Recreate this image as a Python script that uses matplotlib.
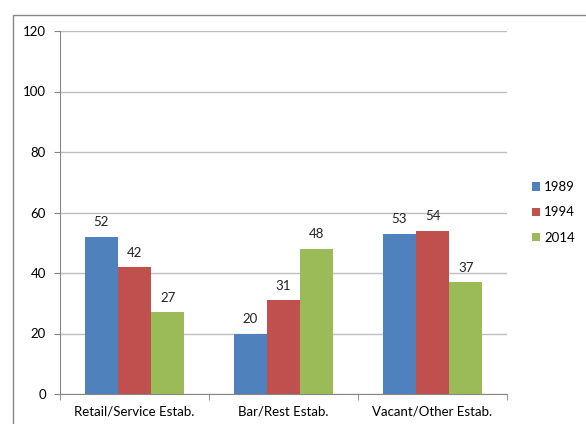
import matplotlib.pyplot as plt
import numpy as np
from matplotlib.patches import Rectangle

categories = ['Retail/Service Estab.', 'Bar/Rest Estab.', 'Vacant/Other Estab.']
years = ['1989', '1994', '2014']
v1989 = [52, 20, 53]
v1994 = [42, 31, 54]
v2014 = [27, 48, 37]
colors = ['#4F81BD', '#C0504D', '#9BBB59']

plt.rcParams['font.family'] = ['Lato', 'DejaVu Sans']
plt.rcParams['font.size'] = 9.5

fig = plt.figure(figsize=(5.86, 4.24), dpi=100)
# outer chart border
fig.patches.append(Rectangle((13 / 586, -0.1), 1.0, (424 - 15) / 424 + 0.1,
                             transform=fig.transFigure, fill=False,
                             edgecolor='#868686', linewidth=1.0))

ax = fig.add_axes([60 / 586, 30 / 424, 447 / 586, 363 / 424])
x = np.arange(len(categories))
w = 1 / 4.5
for i, (vals, yr, c) in enumerate(zip([v1989, v1994, v2014], years, colors)):
    pos = x + (i - 1) * w
    ax.bar(pos, vals, width=w, color=c, label=yr, zorder=3)
    for p, v in zip(pos, vals):
        ax.annotate(str(v), (p, v), xytext=(0, 6), textcoords='offset points',
                    ha='center', va='bottom', color='#222222')

ax.set_xlim(-0.5, 2.5)
ax.set_ylim(0, 120)
ax.set_yticks(range(0, 121, 20))
ax.yaxis.grid(True, color='#BFBFBF', linewidth=1, zorder=0)
ax.set_xticks(x)
ax.set_xticklabels(categories)
ax.set_xticks([-0.5, 0.5, 1.5, 2.5], minor=True)
ax.tick_params(axis='x', which='major', length=0, pad=8)
ax.tick_params(axis='x', which='minor', length=4, color='#868686')
ax.tick_params(axis='y', length=4, color='#868686', pad=6)
for s in ['top', 'right']:
    ax.spines[s].set_visible(False)
for s in ['left', 'bottom']:
    ax.spines[s].set_color('#868686')

ax.legend(loc='center left', bbox_to_anchor=(1.03, 0.5), frameon=False,
          handlelength=0.6, handleheight=0.6, handletextpad=0.3,
          labelspacing=1.0)

fig.savefig('out.png', dpi=100)
